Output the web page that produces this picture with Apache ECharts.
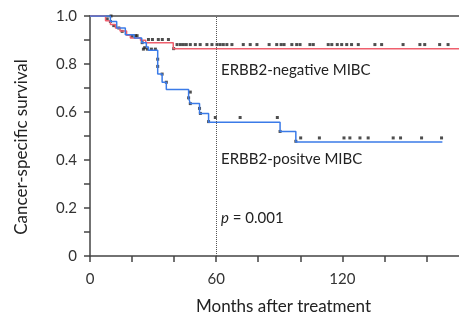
<!DOCTYPE html>
<html>
<head>
<meta charset="utf-8">
<script src="https://cdn.jsdelivr.net/npm/echarts@6/dist/echarts.min.js"></script>
<style>
  html, body { margin: 0; padding: 0; background: #fff; }
  #km { width: 459px; height: 320px; }
</style>
</head>
<body>
<div id="km"></div>
<script>
// ERBB2-negative: 계단 곡선 (months, survival)
var negTime = [0, 7.4, 9.7, 12.1, 14.3, 17.4, 19.2, 24, 26.5, 39.6, 175.5];
var negSurv = [1, 0.98, 0.965, 0.95, 0.938, 0.92, 0.908, 0.899, 0.889, 0.864, 0.864];

// ERBB2-positive
var posTime = [0, 9.7, 12.7, 16.8, 21, 24.6, 26.8, 27.8, 32.2, 34.3, 36.3, 46.9, 47.7, 52.1, 56.4, 90.4, 97.9, 167.6];
var posSurv = [1, 0.977, 0.95, 0.922, 0.908, 0.889, 0.871, 0.857, 0.758, 0.724, 0.694, 0.659, 0.635, 0.594, 0.557, 0.519, 0.475, 0.475];

// censored marks
var negCensorTime = [8.2, 10, 11.3, 13.7, 15.3, 20, 21.6, 22.4, 27.8, 29.7, 32.5, 34.4, 37.3, 39.8,
  41.4, 43.0, 44.4, 45.8, 47.7, 50.1, 52.4, 55.6, 58.0, 60.4, 61.9, 63.4, 65.1, 67.5, 72.9, 76.2, 79.4,
  85.2, 88.8, 90.9, 92.3, 96.0, 98.3, 99.9, 104.6, 106.2, 113.3, 115.0, 117.6, 119.7, 122.1, 124.4,
  127.6, 135.5, 138.7, 148.9, 156.9, 159.2, 166.3, 170.3];
var negCensorSurv = [0.988, 1.0, 0.96, 0.95, 0.936, 0.915, 0.918, 0.918, 0.902, 0.902, 0.902, 0.902, 0.902, 0.864,
  0.881, 0.881, 0.881, 0.881, 0.881, 0.881, 0.881, 0.881, 0.881, 0.881, 0.881, 0.881, 0.881, 0.881, 0.881, 0.881, 0.881,
  0.881, 0.881, 0.881, 0.881, 0.881, 0.881, 0.881, 0.881, 0.881, 0.881, 0.881, 0.881, 0.881, 0.881, 0.881,
  0.881, 0.881, 0.881, 0.881, 0.881, 0.881, 0.881, 0.881];

var posCensorTime = [9.7, 24.8, 26, 25.4, 27.3, 29.2, 31.1, 32.2, 32.2, 34.3, 36.3, 47.7, 46.9, 47.7, 52.1, 52.5, 56.4,
  59.6, 71.4, 89.1, 90.4, 97.9, 100.2, 109.1, 120.8, 123.6, 128.4, 132.3, 144.2, 147.7, 157.7, 167.2];
var posCensorSurv = [0.977, 0.889, 0.868, 0.862, 0.862, 0.862, 0.862, 0.82, 0.79, 0.758, 0.724, 0.683, 0.659, 0.635, 0.615, 0.594, 0.56,
  0.577, 0.577, 0.577, 0.519, 0.478, 0.492, 0.492, 0.492, 0.492, 0.492, 0.492, 0.492, 0.492, 0.492, 0.492];

// 눈금
var xTicks = [0, 20, 40, 60, 80, 100, 120, 140, 160];
var xLabels = [0, 60, 120];
var yTicks = [0, 0.1, 0.2, 0.3, 0.4, 0.5, 0.6, 0.7, 0.8, 0.9, 1.0];
var yLabels = [0, 0.2, 0.4, 0.6, 0.8, 1.0];
var cutoffMonth = 60;

function zip(a, b) {
  var out = [];
  for (var i = 0; i < a.length; i++) out.push([a[i], b[i]]);
  return out;
}

var font = 'Lato';
var chart = echarts.init(document.getElementById('km'));
var option = {
  animation: false,
  grid: { left: 90, right: 0, top: 16, bottom: 60 },
  xAxis: [{
    type: 'value', min: 0, max: 175.5,
    axisLine: { lineStyle: { color: '#444', width: 1.5 } },
    axisTick: { customValues: xTicks, length: 6, lineStyle: { color: '#444', width: 1.5 } },
    axisLabel: { customValues: xLabels, margin: 16, fontFamily: font, fontSize: 15, color: '#333' },
    splitLine: { show: false },
    name: 'Months after treatment', nameLocation: 'middle', nameGap: 42,
    nameTextStyle: { fontFamily: font, fontSize: 17, color: '#222', padding: [0, 0, 0, 18] }
  }, {
    type: 'value', min: 0, max: 175.5, position: 'top',
    axisLine: { lineStyle: { color: '#777', width: 2 } },
    axisTick: { show: false }, axisLabel: { show: false }, splitLine: { show: false }
  }],
  yAxis: {
    type: 'value', min: 0, max: 1,
    axisLine: { show: true, lineStyle: { color: '#444', width: 1.5 } },
    axisTick: { show: true, customValues: yTicks, length: 6, lineStyle: { color: '#444', width: 1.5 } },
    axisLabel: {
      customValues: yLabels, margin: 13, fontFamily: font, fontSize: 15, color: '#333',
      formatter: function (v) { return v === 0 ? '0' : v.toFixed(1); }
    },
    splitLine: { show: false }
  },
  graphic: [
    { type: 'text', left: 221, top: 63, style: { text: 'ERBB2-negative MIBC', font: '15px Lato', fill: '#222' } },
    { type: 'text', left: 221, top: 152, style: { text: 'ERBB2-positve MIBC', font: '15px Lato', fill: '#222' } },
    { type: 'text', left: 221, top: 211, style: { rich: { i: { fontStyle: 'italic', fontFamily: font, fontSize: 15, fill: '#222' }, n: { fontFamily: font, fontSize: 15, fill: '#222' } }, text: '{i|p}{n| = 0.001}' } },
    { type: 'text', x: 22, y: 147, rotation: Math.PI / 2,
      style: { text: 'Cancer-specific survival', font: '17px Lato', fill: '#222', align: 'center', verticalAlign: 'middle' } }
  ],
  series: [
    {
      name: 'ERBB2-negative', type: 'line', step: 'end', showSymbol: false,
      data: zip(negTime, negSurv),
      lineStyle: { color: '#ef5f6d', width: 1.5 },
      markLine: {
        silent: true, symbol: 'none', label: { show: false },
        lineStyle: { color: '#555', type: 'dotted', width: 1 },
        data: [{ xAxis: cutoffMonth }]
      }
    },
    {
      name: 'ERBB2-positive', type: 'line', step: 'end', showSymbol: false,
      data: zip(posTime, posSurv),
      lineStyle: { color: '#3b7be8', width: 1.5 }
    },
    {
      type: 'scatter', symbol: 'rect', symbolSize: 3,
      data: zip(negCensorTime, negCensorSurv),
      itemStyle: { color: '#222' }
    },
    {
      type: 'scatter', symbol: 'rect', symbolSize: 3,
      data: zip(posCensorTime, posCensorSurv),
      itemStyle: { color: '#222' }
    }
  ]
};
chart.setOption(option);
</script>
</body>
</html>
